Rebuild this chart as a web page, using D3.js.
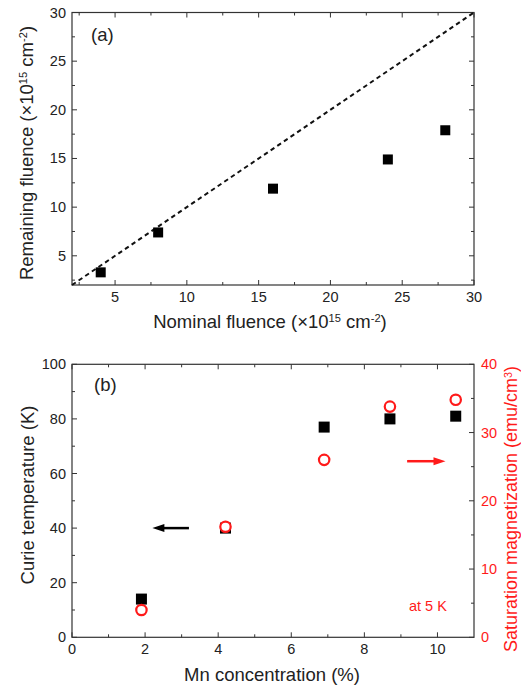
<!DOCTYPE html>
<html>
<head>
<meta charset="utf-8">
<script src="https://cdn.jsdelivr.net/npm/d3@7"></script>
<style>
  html, body { margin: 0; padding: 0; background: #fff; }
  svg { display: block; font-family: "Liberation Sans", Arial, sans-serif; }
</style>
</head>
<body>
<svg id="chart" width="521" height="691"></svg>
<script>
// Panel (a): remaining vs nominal fluence (units of 1e15 cm^-2)
const nominalFluence   = [4, 8, 16, 24, 28];
const remainingFluence = [3.3, 7.4, 11.9, 14.9, 17.9];
const fluenceTicks = [5, 10, 15, 20, 25, 30];

// Panel (b): Curie temperature and saturation magnetization vs Mn content
const mnConcentration = [1.9, 4.2, 6.9, 8.7, 10.5];
const curieTemp       = [14, 40, 77, 80, 81];          // K
const saturationMag   = [4, 16.2, 26, 33.8, 34.8];     // emu/cm^3
const mnTicks    = [0, 2, 4, 6, 8, 10];
const curieTicks = [0, 20, 40, 60, 80, 100];
const magTicks   = [0, 10, 20, 30, 40];

const RED = "#ff1a1a";
const AXIS = "#333";
const TICK_FS = 14.5, TITLE_FS = 18.5;
const svg = d3.select("#chart");

const L = 72, R = 474;

// draws inward ticks on one side of a frame
function ticks(g, scale, orient, major, minor, pos, labels, color) {
  const horiz = orient === "bottom" || orient === "top";
  const dir = (orient === "bottom" || orient === "right") ? -1 : 1;
  const draw = (vals, len) => g.selectAll(null).data(vals).join("line")
    .attr("x1", d => horiz ? scale(d) : pos)
    .attr("x2", d => horiz ? scale(d) : pos + dir * len)
    .attr("y1", d => horiz ? pos : scale(d))
    .attr("y2", d => horiz ? pos + dir * len : scale(d))
    .attr("stroke", AXIS).attr("stroke-width", 1);
  draw(major, 5);
  draw(minor, 3);
  if (!labels) return;
  const t = g.selectAll(null).data(major).join("text")
    .attr("font-size", TICK_FS).attr("fill", color || "#222")
    .text(d => d);
  if (orient === "bottom") t.attr("x", d => scale(d)).attr("y", pos + 17).attr("text-anchor", "middle");
  if (orient === "left")   t.attr("x", pos - 6).attr("y", d => scale(d) + 5).attr("text-anchor", "end");
  if (orient === "right")  t.attr("x", pos + 7).attr("y", d => scale(d) + 5).attr("text-anchor", "start");
}

function frame(g, x0, x1, y0, y1) {
  g.append("rect").attr("x", x0).attr("y", y0)
    .attr("width", x1 - x0).attr("height", y1 - y0)
    .attr("fill", "none").attr("stroke", AXIS).attr("stroke-width", 1.2);
}

// text with superscript parts: parts = [[text, isSup], ...]
function richText(sel, parts) {
  let up = false;
  parts.forEach(([s, sup]) => {
    const t = sel.append("tspan").text(s);
    if (sup && !up) { t.attr("font-size", "0.6em").attr("dy", "-0.5em"); up = true; }
    else if (sup) { t.attr("font-size", "0.6em"); }
    else if (up) { t.attr("dy", "0.3em"); up = false; }
  });
}

// ---------- Panel (a) ----------
{
  const T = 12.5, B = 285;
  const x = d3.scaleLinear().domain([2, 30]).range([L, R]);
  const y = d3.scaleLinear().domain([2, 30]).range([B, T]);
  const g = svg.append("g");

  const minor = d3.range(2.5, 30, 5);
  ticks(g, x, "bottom", fluenceTicks, minor, B, true);
  ticks(g, x, "top", fluenceTicks, minor, T, false);
  ticks(g, y, "left", fluenceTicks, minor, L, true);
  ticks(g, y, "right", fluenceTicks, minor, R, false);
  frame(g, L, R, T, B);

  // y = x reference line
  g.append("line")
    .attr("x1", x(2)).attr("y1", y(2)).attr("x2", x(30)).attr("y2", y(30))
    .attr("stroke", "#111").attr("stroke-width", 2).attr("stroke-dasharray", "4.5,3.5");

  g.selectAll(null).data(nominalFluence).join("rect")
    .attr("x", (d) => x(d) - 5)
    .attr("y", (d, i) => y(remainingFluence[i]) - 5)
    .attr("width", 10).attr("height", 10).attr("fill", "#000");

  g.append("text").attr("x", 91).attr("y", 41).attr("font-size", TITLE_FS).attr("fill", "#222").text("(a)");

  const xt = g.append("text").attr("x", 270).attr("y", 328)
    .attr("text-anchor", "middle").attr("font-size", TITLE_FS).attr("fill", "#222");
  richText(xt, [["Nominal fluence (\u00d710", false], ["15", true], [" cm", false], ["-2", true], [")", false]]);

  const yt = g.append("text")
    .attr("transform", `translate(33,153) rotate(-90)`)
    .attr("text-anchor", "middle").attr("font-size", TITLE_FS).attr("fill", "#222");
  richText(yt, [["Remaining fluence (\u00d710", false], ["15", true], [" cm", false], ["-2", true], [")", false]]);
}

// ---------- Panel (b) ----------
{
  const T = 364.3, B = 637.3;
  const x = d3.scaleLinear().domain([0, 11]).range([L, R]);
  const yL = d3.scaleLinear().domain([0, 100]).range([B, T]);
  const yR = d3.scaleLinear().domain([0, 40]).range([B, T]);
  const g = svg.append("g");

  ticks(g, x, "bottom", mnTicks, d3.range(1, 11, 2), B, true);
  ticks(g, x, "top", mnTicks, d3.range(1, 11, 2), T, false);
  ticks(g, yL, "left", curieTicks, d3.range(10, 100, 20), L, true);
  ticks(g, yR, "right", magTicks, d3.range(5, 40, 10), R, true, RED);
  frame(g, L, R, T, B);

  g.selectAll(null).data(mnConcentration).join("rect")
    .attr("x", d => x(d) - 5.5)
    .attr("y", (d, i) => yL(curieTemp[i]) - 5.5)
    .attr("width", 11).attr("height", 11).attr("fill", "#000");

  g.selectAll(null).data(mnConcentration).join("circle")
    .attr("cx", d => x(d))
    .attr("cy", (d, i) => yR(saturationMag[i]))
    .attr("r", 5.2).attr("fill", "#fff").attr("stroke", RED).attr("stroke-width", 2.2);

  // arrows pointing to the axis each series belongs to
  const arrow = (xa, xb, yv, color) => {
    const y0 = yv, x0 = x(xa), x1 = x(xb);
    const dir = Math.sign(x1 - x0);
    g.append("line").attr("x1", x0).attr("x2", x1 - dir * 8).attr("y1", y0).attr("y2", y0)
      .attr("stroke", color).attr("stroke-width", 2.5);
    g.append("path")
      .attr("d", `M${x1},${y0} L${x1 - dir * 12},${y0 - 4} L${x1 - dir * 12},${y0 + 4} Z`)
      .attr("fill", color);
  };
  arrow(3.2, 2.2, yL(40), "#000");
  arrow(9.17, 10.22, yR(25.8), RED);

  g.append("text").attr("x", x(9.22)).attr("y", yL(9.5)).attr("font-size", TICK_FS)
    .attr("fill", RED).text("at 5 K");

  g.append("text").attr("x", 94).attr("y", 391).attr("font-size", TITLE_FS).attr("fill", "#222").text("(b)");

  g.append("text").attr("x", 272).attr("y", 681)
    .attr("text-anchor", "middle").attr("font-size", TITLE_FS).attr("fill", "#222")
    .text("Mn concentration (%)");

  g.append("text")
    .attr("transform", `translate(34,495) rotate(-90)`)
    .attr("text-anchor", "middle").attr("font-size", TITLE_FS).attr("fill", "#222")
    .text("Curie temperature (K)");

  const rt = g.append("text")
    .attr("transform", `translate(517,509) rotate(-90)`)
    .attr("text-anchor", "middle").attr("font-size", 18).attr("fill", RED);
  richText(rt, [["Saturation magnetization (emu/cm", false], ["3", true], [")", false]]);
}
</script>
</body>
</html>
